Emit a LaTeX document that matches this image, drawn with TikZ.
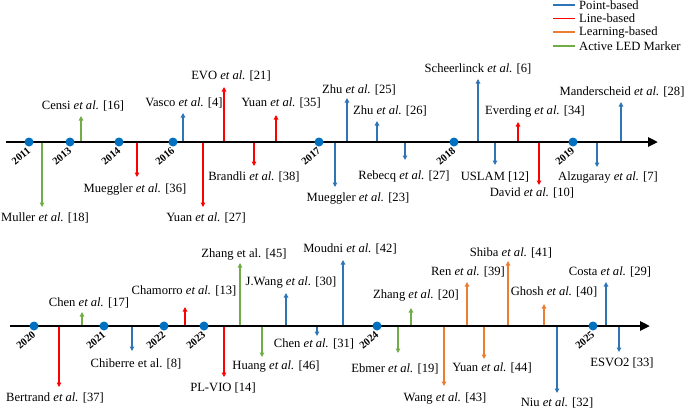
\documentclass[tikz,border=0pt]{standalone}
\usepackage{fontspec}
\setmainfont{Liberation Serif}
\usetikzlibrary{arrows.meta}
\definecolor{cpoint}{RGB}{46,117,182}
\definecolor{cline}{RGB}{255,0,0}
\definecolor{clearn}{RGB}{237,125,49}
\definecolor{cled}{RGB}{112,173,71}
\definecolor{cdot}{RGB}{0,112,192}
\tikzset{
  evarrow/.style={line width=1.4pt,-{Triangle[length=4.5pt,width=4.5pt]}},
  evlabel/.style={inner sep=0pt,font=\fontsize{12.6}{14}\selectfont},
  axisline/.style={line width=2.8pt,-{Triangle[length=10pt,width=9pt]}},
  yeardot/.style={circle,fill=cdot,inner sep=0pt,minimum size=9pt},
  yearlabel/.style={inner sep=0pt,rotate=40,font=\fontsize{10.5}{12}\selectfont\bfseries},
  legline/.style={line width=1.4pt},
  leglabel/.style={inner sep=0pt,anchor=west,font=\fontsize{12.6}{14}\selectfont}
}
\newcommand\myevt[8]{%
  \coordinate (#1b) at (#2,#3);
  \coordinate (#1t) at (#2,#4);
  \draw[evarrow,#5] (#1b) -- (#1t);
  \node[evlabel] (#1l) at (#6,#7) {#8};
}
\newcommand\myyear[3]{%
  \node[yeardot] (y#1) at (#2,#3) {};
  \node[yearlabel] (y#1l) at ([xshift=-8pt,yshift=-14pt]y#1.center) {#1};
}
\newcommand\etal{\textit{et al.}}
\begin{document}
\begin{tikzpicture}[x=1pt,y=-1pt]
\useasboundingbox (0,0) rectangle (685,410);
% legend
\foreach \c/\t/\yy [count=\i] in {cpoint/Point-based/5,cline/Line-based/18.5,clearn/Learning-based/32,cled/Active LED Marker/46}{
  \coordinate (lg\i a) at (553,\yy);
  \coordinate (lg\i b) at (575,\yy);
  \draw[legline,\c] (lg\i a) -- (lg\i b);
  \node[leglabel] (lg\i t) at (579,\yy) {\t};
}
% timeline 1 events
\myevt{muller}{42}{142}{207}{cled}{45}{218}{Muller \etal{} [18]}
\myevt{censi}{81}{142}{116}{cled}{83}{106}{Censi \etal{} [16]}
\myevt{mueggA}{137}{142}{177}{cline}{135}{189}{Mueggler \etal{} [36]}
\myevt{vasco}{183}{142}{113}{cpoint}{184}{103}{Vasco \etal{} [4]}
\myevt{evo}{224}{142}{87}{cline}{231}{76}{EVO \etal{} [21]}
\myevt{yuanA}{203}{142}{207}{cline}{206}{218}{Yuan \etal{} [27]}
\myevt{brandli}{254}{142}{166}{cline}{254}{177}{Brandli \etal{} [38]}
\myevt{yuanB}{276}{142}{115}{cline}{281}{103}{Yuan \etal{} [35]}
\myevt{mueggB}{335}{142}{187}{cpoint}{358}{198}{Mueggler \etal{} [23]}
\myevt{zhuA}{347}{142}{98}{cpoint}{359}{90}{Zhu \etal{} [25]}
\myevt{zhuB}{377}{142}{121}{cpoint}{390}{111}{Zhu \etal{} [26]}
\myevt{rebecq}{405}{142}{160}{cpoint}{404}{176}{Rebecq \etal{} [27]}
\myevt{scheer}{478}{142}{79}{cpoint}{478}{69}{Scheerlinck \etal{} [6]}
\myevt{uslam}{495}{142}{165}{cpoint}{495}{177}{USLAM [12]}
\myevt{everding}{518}{142}{122}{cline}{535}{111}{Everding \etal{} [34]}
\myevt{david}{539}{142}{185}{cline}{532}{193}{David \etal{} [10]}
\myevt{alzu}{597}{142}{167}{cpoint}{608}{177}{Alzugaray \etal{} [7]}
\myevt{mander}{621}{142}{102}{cpoint}{622}{92}{Manderscheid \etal{} [28]}
% timeline 2 events
\myevt{bertrand}{59}{326}{387}{cline}{55}{398}{Bertrand \etal{} [37]}
\myevt{chenA}{82}{326}{312}{cled}{89}{303}{Chen \etal{} [17]}
\myevt{chiberre}{132}{326}{351}{cpoint}{136}{364}{Chiberre et al. [8]}
\myevt{chamorro}{185}{326}{307}{cline}{184}{291}{Chamorro \etal{} [13]}
\myevt{plvio}{224}{326}{377}{cline}{223}{388}{PL-VIO [14]}
\myevt{zhangA}{240}{326}{263}{cled}{244}{254}{Zhang et al. [45]}
\myevt{huang}{262}{326}{357}{cled}{276}{366}{Huang \etal{} [46]}
\myevt{jwang}{286}{326}{293}{cpoint}{291}{282}{J.Wang \etal{} [30]}
\myevt{chenB}{317}{326}{336}{cpoint}{314}{344}{Chen \etal{} [31]}
\myevt{moudni}{343}{326}{260}{cpoint}{350}{249}{Moudni \etal{} [42]}
\myevt{ebmer}{398}{326}{353}{cled}{395}{369}{Ebmer \etal{} [19]}
\myevt{zhangB}{411}{326}{308}{cled}{416}{295}{Zhang \etal{} [20]}
\myevt{wang}{444}{326}{386}{clearn}{445}{398}{Wang \etal{} [43]}
\myevt{ren}{467}{326}{282}{clearn}{468}{272}{Ren \etal{} [39]}
\myevt{yuanC}{484}{326}{359}{clearn}{492}{368}{Yuan \etal{} [44]}
\myevt{shiba}{508}{326}{261}{clearn}{511}{253}{Shiba \etal{} [41]}
\myevt{ghosh}{544}{326}{304}{clearn}{554}{292}{Ghosh \etal{} [40]}
\myevt{niu}{557}{326}{393}{cpoint}{557}{403}{Niu \etal{} [32]}
\myevt{costa}{606}{326}{282}{cpoint}{610}{272}{Costa \etal{} [29]}
\myevt{esvo}{619}{326}{352}{cpoint}{622}{363}{ESVO2 [33]}
% axes
\coordinate (ax1s) at (6,142);
\coordinate (ax1e) at (658,142);
\draw[axisline] (ax1s) -- (ax1e);
\coordinate (ax2s) at (10,326);
\coordinate (ax2e) at (650,326);
\draw[axisline] (ax2s) -- (ax2e);
% years
\myyear{2011}{29}{142}
\myyear{2013}{70}{142}
\myyear{2014}{119}{142}
\myyear{2016}{173}{142}
\myyear{2017}{319}{142}
\myyear{2018}{454}{142}
\myyear{2019}{573}{142}
\myyear{2020}{34}{326}
\myyear{2021}{104}{326}
\myyear{2022}{164}{326}
\myyear{2023}{204}{326}
\myyear{2024}{377}{326}
\myyear{2025}{593}{326}
\end{tikzpicture}
\end{document}
